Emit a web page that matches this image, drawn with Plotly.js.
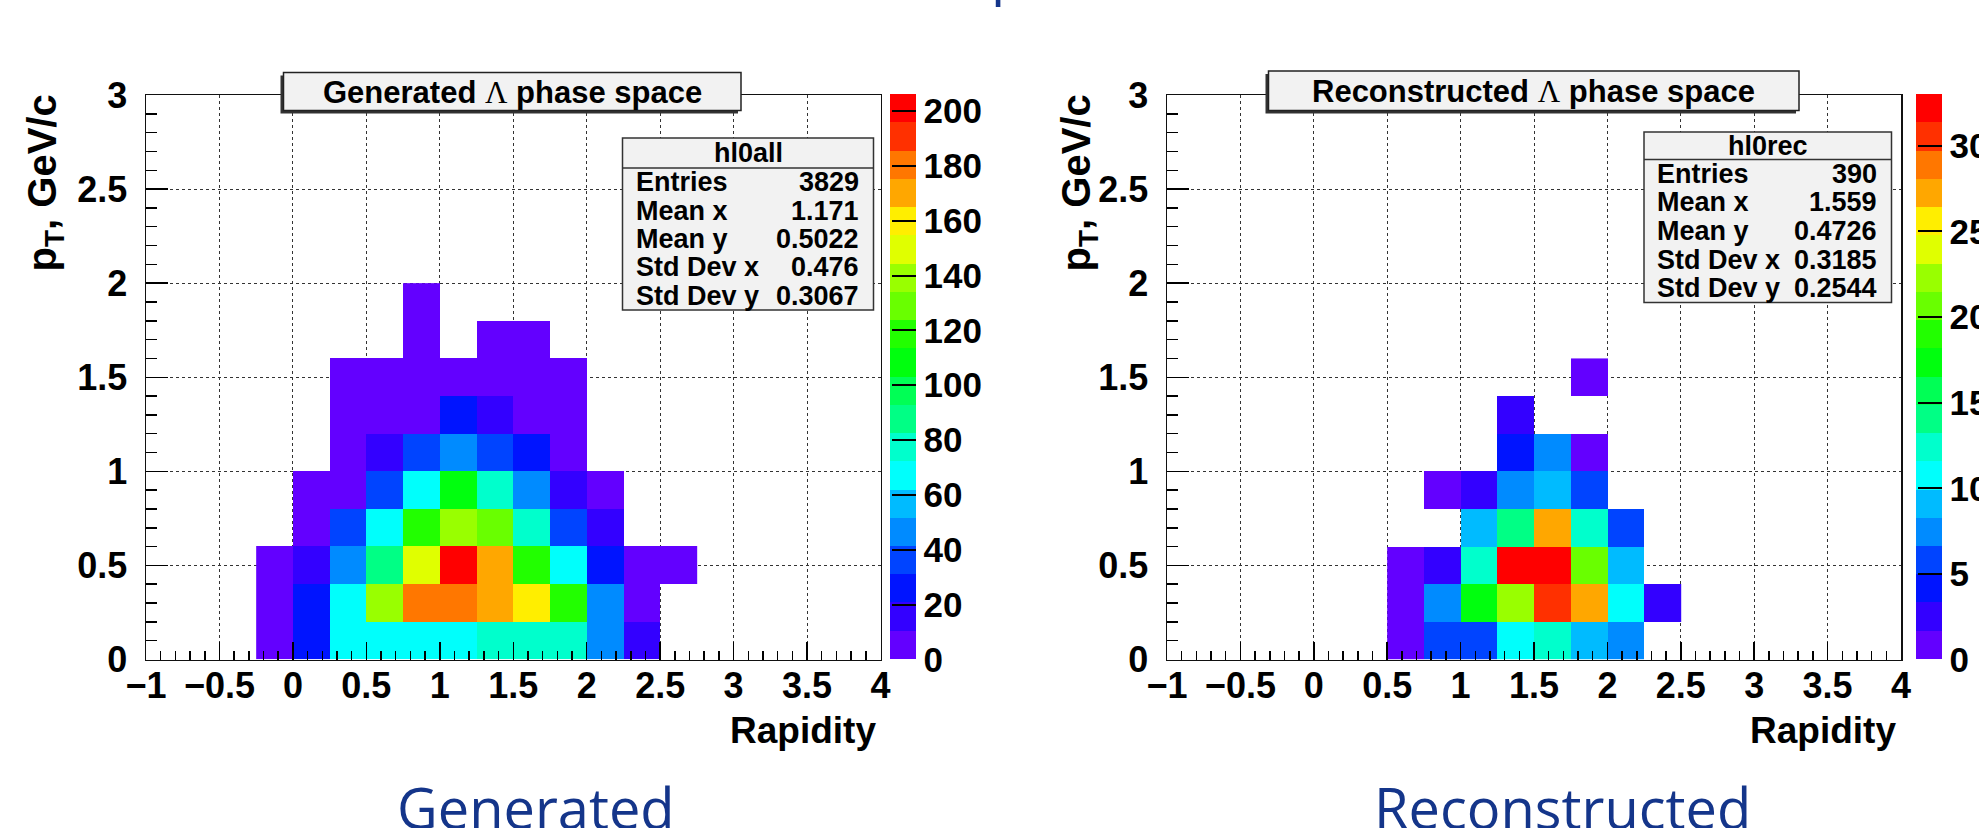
<!DOCTYPE html>
<html><head><meta charset="utf-8">
<script src="https://cdn.plot.ly/plotly-3.0.1.min.js"></script>
<style>html,body{margin:0;padding:0;background:#fff;overflow:hidden}#chart{width:1979px;height:828px}</style>
</head><body><div id="chart"></div>
<script>
// ---------------- data ----------------
// Generated Lambda phase space (hl0all): bin centers and bin contents (rows = pT bins)
const genX = [-0.125, 0.125, 0.375, 0.625, 0.875, 1.125, 1.375, 1.625, 1.875, 2.125, 2.375, 2.625];
const genY = [0.1, 0.3, 0.5, 0.7, 0.9, 1.1, 1.3, 1.5, 1.7, 1.9];
const genZ = [
  [6, 22, 66, 68, 65, 70, 77, 78, 75, 46, 15, null],
  [6, 22, 67, 138, 180, 178, 170, 158, 118, 47, 7, null],
  [5, 15, 46, 87, 150, 206, 168, 117, 67, 25, 6, 4],
  [null, 6, 36, 68, 116, 139, 128, 76, 36, 16, null, null],
  [null, 5, 5, 37, 66, 108, 78, 46, 15, 6, null, null],
  [null, null, 6, 14, 35, 46, 34, 24, 7, null, null, null],
  [null, null, 4, 6, 5, 25, 15, 7, 5, null, null, null],
  [null, null, 2, 3, 5, 6, 4, 5, 3, null, null, null],
  [null, null, null, null, 2, null, 2, 1, null, null, null, null],
  [null, null, null, null, 1, null, null, null, null, null, null, null]
];
const genZmax = 206;
const genBarTicks = [0, 20, 40, 60, 80, 100, 120, 140, 160, 180, 200];

// Reconstructed Lambda phase space (hl0rec)
const recX = [0.625, 0.875, 1.125, 1.375, 1.625, 1.875, 2.125, 2.375];
const recY = [0.1, 0.3, 0.5, 0.7, 0.9, 1.1, 1.3, 1.5];
const recZ = [
  [1, 6, 6, 11, 12, 9, 7, null],
  [1, 8, 17, 23, 31, 27, 11, 3],
  [1, 2, 12, 33, 32, 20, 9, null],
  [null, null, 9, 14, 28, 12, 5, null],
  [null, 1, 3, 7, 9, 5, null, null],
  [null, null, null, 4, 7, 1, null, null],
  [null, null, null, 2, null, null, null, null],
  [null, null, null, null, null, 1, null, null]
];
const recZmax = 33;
const recBarTicks = [0, 5, 10, 15, 20, 25, 30];

// axis ticks
const xTickVals = [-1, -0.5, 0, 0.5, 1, 1.5, 2, 2.5, 3, 3.5, 4];
const xTickText = ['\u22121', '\u22120.5', '0', '0.5', '1', '1.5', '2', '2.5', '3', '3.5', '4'];
const yTickVals = [0, 0.5, 1, 1.5, 2, 2.5, 3];
const yTickText = ['0', '0.5', '1', '1.5', '2', '2.5', '3'];

// stats boxes
const genStatsName = 'hl0all';
const recStatsName = 'hl0rec';
const statLabels = ['Entries', 'Mean x', 'Mean y', 'Std Dev x', 'Std Dev y'];
const genStats = ['3829', '1.171', '0.5022', '0.476', '0.3067'];
const recStats = ['390', '1.559', '0.4726', '0.3185', '0.2544'];

// texts
const genTitle = 'Generated';
const recTitle = 'Reconstructed';
const histTitleTail = 'phase space';
const xTitle = 'Rapidity';

// ---------------- style ----------------
const W = 1979, H = 828;
const X = p => p / W;
const Y = p => 1 - p / H;
const FONT = 'Liberation Sans, Arial, Helvetica, sans-serif';
const SLIDE_FONT = 'Open Sans, Noto Sans, sans-serif';
const NAVY = '#14358a';

// ROOT "pretty" palette (violet -> red), 20 contour levels
const NLEV = 20;
const bandColors = [];
for (let i = 0; i < NLEV; i++) {
  const idx = Math.floor((i + 0.99) * 50 / NLEV);
  const hue = idx >= 49 ? 0 : 280 - (idx + 1) * 5.6;
  bandColors.push('hsl(' + hue.toFixed(1) + ',100%,50%)');
}
const colorscale = [];
bandColors.forEach((c, i) => { colorscale.push([i / NLEV, c]); colorscale.push([(i + 1) / NLEV, c]); });

const frameTop = 95, frameBot = 659.5;
const L = {x0: 146, x1: 880.5};
const R = {x0: 1167, x1: 1901};

function cbar(xpx, ticks) {
  return {
    x: X(xpx), xanchor: 'left', xpad: 0, ypad: 0,
    y: Y(frameBot), yanchor: 'bottom', len: (frameBot - frameTop) / H, lenmode: 'fraction',
    thickness: 26, thicknessmode: 'pixels', outlinewidth: 0,
    tickmode: 'array', tickvals: ticks, ticktext: ticks.map(String),
    ticks: 'inside', ticklen: 24, tickwidth: 2, tickcolor: '#000',
    tickfont: {family: FONT, size: 35, color: '#000', weight: 'bold'}
  };
}

const traces = [
  {type: 'heatmap', x: genX, y: genY, z: genZ, zmin: 0, zmax: genZmax, colorscale: colorscale,
   xaxis: 'x', yaxis: 'y', hoverinfo: 'skip', colorbar: cbar(890, genBarTicks)},
  {type: 'heatmap', x: recX, y: recY, z: recZ, zmin: 0, zmax: recZmax, colorscale: colorscale,
   xaxis: 'x2', yaxis: 'y2', hoverinfo: 'skip', colorbar: cbar(1915.5, recBarTicks)}
];

function xax(dom, anchor) {
  return {
    domain: dom, anchor: anchor, range: [-1, 4], fixedrange: true,
    tickmode: 'array', tickvals: xTickVals, ticktext: xTickText,
    ticks: 'inside', ticklen: 18, tickwidth: 1.5, tickcolor: '#000',
    minor: {dtick: 0.1, tick0: -1, ticks: 'inside', ticklen: 9, tickwidth: 1.5, tickcolor: '#000', showgrid: false},
    showline: true, mirror: true, linecolor: '#111', linewidth: 1.5,
    showgrid: true, gridcolor: '#333', griddash: 'dot', gridwidth: 1, zeroline: false,
    tickfont: {family: FONT, size: 36, color: '#000', weight: 'bold'}, ticklabelstandoff: -6
  };
}
function yax(anchor) {
  return {
    domain: [Y(frameBot), Y(frameTop)], anchor: anchor, range: [0, 3], fixedrange: true,
    tickmode: 'array', tickvals: yTickVals, ticktext: yTickText,
    ticks: 'inside', ticklen: 22, tickwidth: 1.5, tickcolor: '#000',
    minor: {dtick: 0.1, tick0: 0, ticks: 'inside', ticklen: 11, tickwidth: 1.5, tickcolor: '#000', showgrid: false},
    showline: true, mirror: true, linecolor: '#111', linewidth: 1.5,
    showgrid: true, gridcolor: '#333', griddash: 'dot', gridwidth: 1, zeroline: false,
    tickfont: {family: FONT, size: 36, color: '#000', weight: 'bold'}, ticklabelstandoff: 10
  };
}

const shapes = [];
const annotations = [];

function titleBox(x0, x1, y0, y1, name) {
  shapes.push({type: 'rect', xref: 'paper', yref: 'paper', x0: X(x0 - 3), x1: X(x1 - 3), y0: Y(y1 + 3), y1: Y(y0 + 3),
    fillcolor: '#333', line: {width: 0}, layer: 'above'});
  shapes.push({type: 'rect', xref: 'paper', yref: 'paper', x0: X(x0), x1: X(x1), y0: Y(y1), y1: Y(y0),
    fillcolor: '#f2f2f2', line: {color: '#222', width: 1.5}, layer: 'above'});
  annotations.push({xref: 'paper', yref: 'paper', x: X((x0 + x1) / 2), y: Y((y0 + y1) / 2 + 1),
    xanchor: 'center', yanchor: 'middle', showarrow: false,
    text: '<b>' + name + '</b> <span style="font-family:Liberation Serif;font-weight:normal">\u039B</span> <b>' + histTitleTail + '</b>',
    font: {family: FONT, size: 31, color: '#000'}});
}
titleBox(283.5, 741, 72.5, 110.5, genTitle);
titleBox(1268.5, 1799, 71, 110.5, recTitle);

function statsBox(x0, x1, y0, yh, y1, name, vals) {
  shapes.push({type: 'rect', xref: 'paper', yref: 'paper', x0: X(x0), x1: X(x1), y0: Y(y1), y1: Y(y0),
    fillcolor: '#f2f2f2', line: {color: '#333', width: 1.5}, layer: 'above'});
  shapes.push({type: 'line', xref: 'paper', yref: 'paper', x0: X(x0), x1: X(x1), y0: Y(yh), y1: Y(yh),
    line: {color: '#333', width: 1.5}, layer: 'above'});
  annotations.push({xref: 'paper', yref: 'paper', x: X((x0 + x1) / 2), y: Y((y0 + yh) / 2),
    xanchor: 'center', yanchor: 'middle', showarrow: false, text: '<b>' + name + '</b>',
    font: {family: FONT, size: 27, color: '#000'}});
  const step = (y1 - yh) / statLabels.length;
  statLabels.forEach((lab, i) => {
    const yc = yh + step * (i + 0.5);
    annotations.push({xref: 'paper', yref: 'paper', x: X(x0 + 11), y: Y(yc), xanchor: 'left', yanchor: 'middle',
      showarrow: false, text: '<b>' + lab + '</b>', font: {family: FONT, size: 27, color: '#000'}});
    annotations.push({xref: 'paper', yref: 'paper', x: X(x1 - 13), y: Y(yc), xanchor: 'right', yanchor: 'middle',
      showarrow: false, text: '<b>' + vals[i] + '</b>', font: {family: FONT, size: 27, color: '#000'}});
  });
}
statsBox(622.5, 873.5, 138, 168, 310, genStatsName, genStats);
statsBox(1644, 1891.5, 132, 159.5, 302.5, recStatsName, recStats);

// axis titles
[[L, 44], [R, 1078]].forEach(([f, xc]) => {
  annotations.push({xref: 'paper', yref: 'paper', x: X(xc), y: Y(93), xanchor: 'center', yanchor: 'top',
    textangle: -90, showarrow: false, text: '<b>p<sub>T</sub>, GeV/c</b>',
    font: {family: FONT, size: 40, color: '#000'}});
  annotations.push({xref: 'paper', yref: 'paper', x: X(f.x1 - 3), y: Y(730), xanchor: 'right', yanchor: 'middle',
    showarrow: false, text: '<b>' + xTitle + '</b>', font: {family: FONT, size: 37, color: '#000'}});
});

// slide captions
annotations.push({xref: 'paper', yref: 'paper', x: X(536), y: Y(767), xanchor: 'center', yanchor: 'top',
  showarrow: false, text: genTitle, font: {family: SLIDE_FONT, size: 56, color: NAVY}});
annotations.push({xref: 'paper', yref: 'paper', x: X(1562), y: Y(767), xanchor: 'center', yanchor: 'top',
  showarrow: false, text: recTitle, font: {family: SLIDE_FONT, size: 56, color: NAVY}});
// descender of the cropped slide heading
annotations.push({xref: 'paper', yref: 'paper', x: X(989), y: Y(11), xanchor: 'left', yanchor: 'bottom',
  showarrow: false, text: 'p', font: {family: SLIDE_FONT, size: 56, color: NAVY}});

const layout = {
  width: W, height: H, margin: {l: 0, r: 0, t: 0, b: 0, pad: 0, autoexpand: false},
  paper_bgcolor: '#fff', plot_bgcolor: '#fff', showlegend: false, hovermode: false,
  xaxis: xax([X(L.x0), X(L.x1)], 'y'), yaxis: yax('x'),
  xaxis2: xax([X(R.x0), X(R.x1)], 'y2'), yaxis2: yax('x2'),
  shapes: shapes, annotations: annotations
};

Plotly.newPlot('chart', traces, layout, {staticPlot: true, displayModeBar: false});
</script></body></html>
